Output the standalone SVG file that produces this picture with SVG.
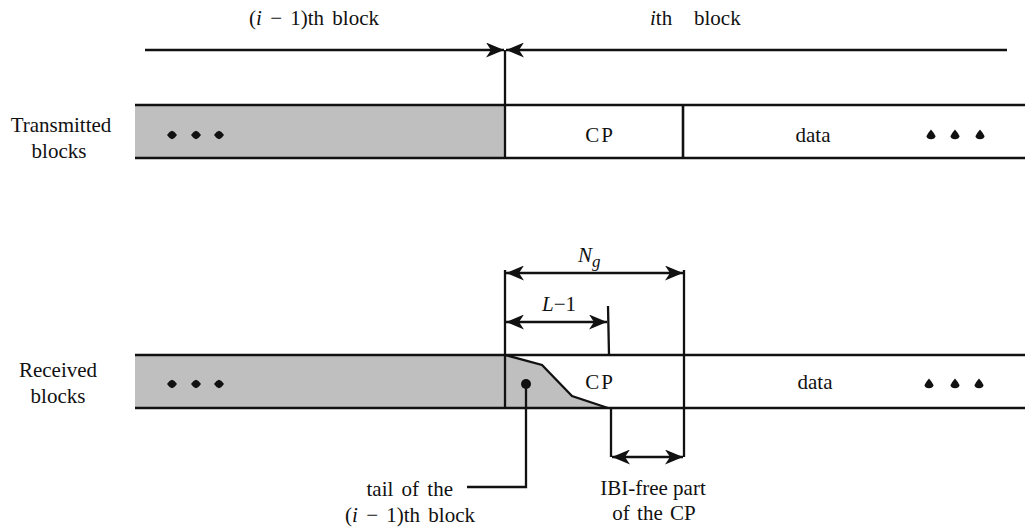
<svg xmlns="http://www.w3.org/2000/svg" width="1025" height="527" viewBox="0 0 1025 527">
<style>
text{font-family:"Liberation Serif","Times New Roman",serif;font-size:21px;fill:#111}
.it{font-style:italic}
.bar{stroke:#111;stroke-width:2.6;fill:none}
.ln{stroke:#111;stroke-width:2.3;fill:none}
.gray{fill:#bfbfbf}
.dot{fill:#111}
</style>
<defs>
<marker id="ah" viewBox="0 0 18 15" refX="18" refY="7.5" markerWidth="18" markerHeight="15" markerUnits="userSpaceOnUse" orient="auto-start-reverse">
<path d="M0,0 L18,7.5 L0,15 L5,7.5 z" fill="#111"/>
</marker>
<path id="dl" d="M-5,0 Q-2.5,-3.8 0,-4.2 Q2.5,-3.8 5,0 Q2.5,3.8 0,4.2 Q-2.5,3.8 -5,0 z"/>
<path id="dr" d="M0,-5.5 Q3.5,-1.5 4.6,1.2 Q3.8,4.2 0,4.2 Q-3.8,4.2 -4.6,1.2 Q-3.5,-1.5 0,-5.5 z"/>
</defs>

<g id="labels-top">
<text x="314" y="25" text-anchor="middle" word-spacing="3">(<tspan class="it">i</tspan> − 1)th block</text>
<text y="25"><tspan x="650" class="it">i</tspan><tspan>th</tspan><tspan x="694">block</tspan></text>
</g>

<g id="transmitted">
<text x="61" y="132" text-anchor="middle">Transmitted</text>
<text x="59" y="158" text-anchor="middle">blocks</text>
<rect class="gray" x="135" y="105" width="370" height="53"/>
<line class="bar" x1="135" y1="105" x2="1025" y2="105"/>
<line class="bar" x1="135" y1="158" x2="1025" y2="158"/>
<line class="bar" x1="683" y1="105" x2="683" y2="158"/>
<use href="#dl" class="dot" x="172" y="135"/>
<use href="#dl" class="dot" x="196" y="135"/>
<use href="#dl" class="dot" x="219" y="135"/>
<text x="600" y="142" text-anchor="middle" letter-spacing="2">CP</text>
<text x="813" y="142" text-anchor="middle">data</text>
<use href="#dr" class="dot" x="931" y="135"/>
<use href="#dr" class="dot" x="955" y="135"/>
<use href="#dr" class="dot" x="980" y="135"/>
</g>

<g id="received">
<text x="58" y="377" text-anchor="middle">Received</text>
<text x="58" y="403" text-anchor="middle">blocks</text>
<rect class="gray" x="135" y="355" width="370" height="53"/>
<polygon class="gray" points="505,355 542,365 572,396 608,408 505,408"/>
<polyline class="ln" points="505,355 542,365 572,396 608,408"/>
<line class="bar" x1="135" y1="355" x2="1025" y2="355"/>
<line class="bar" x1="135" y1="408" x2="1025" y2="408"/>
<use href="#dl" class="dot" x="172" y="384"/>
<use href="#dl" class="dot" x="196" y="384"/>
<use href="#dl" class="dot" x="219" y="384"/>
<text x="600" y="389" text-anchor="middle" letter-spacing="2">CP</text>
<text x="815" y="389" text-anchor="middle">data</text>
<use href="#dr" class="dot" x="929" y="384"/>
<use href="#dr" class="dot" x="955" y="384"/>
<use href="#dr" class="dot" x="979" y="384"/>
<circle class="dot" cx="526" cy="384" r="5"/>
</g>

<g id="annotations">
<text x="578" y="262" class="it">N<tspan font-size="17" dy="5">g</tspan></text>
<text x="542" y="311"><tspan class="it">L</tspan>−1</text>
<text x="453" y="496" text-anchor="end" word-spacing="3">tail of the</text>
<text x="410" y="522" text-anchor="middle" word-spacing="3">(<tspan class="it">i</tspan> − 1)th block</text>
<text x="653" y="495" text-anchor="middle">IBI-free part</text>
<text x="654" y="520" text-anchor="middle" word-spacing="2">of the CP</text>
</g>

<g id="connectors">
<line class="ln" x1="505" y1="50" x2="505" y2="158"/>
<line class="ln" x1="145" y1="50" x2="504" y2="50" marker-end="url(#ah)"/>
<line class="ln" x1="1007" y1="50" x2="506" y2="50" marker-end="url(#ah)"/>
<line class="ln" x1="505" y1="270" x2="505" y2="408"/>
<line class="ln" x1="684" y1="270" x2="684" y2="457"/>
<line class="ln" x1="506" y1="273" x2="683" y2="273" marker-start="url(#ah)" marker-end="url(#ah)"/>
<line class="ln" x1="608" y1="306" x2="609" y2="355"/>
<line class="ln" x1="506" y1="322" x2="607" y2="322" marker-start="url(#ah)" marker-end="url(#ah)"/>
<line class="ln" x1="611" y1="408" x2="611" y2="457"/>
<line class="ln" x1="612" y1="457" x2="683" y2="457" marker-start="url(#ah)" marker-end="url(#ah)"/>
<polyline class="ln" points="526,384 526,487 467,487"/>
</g>
</svg>
